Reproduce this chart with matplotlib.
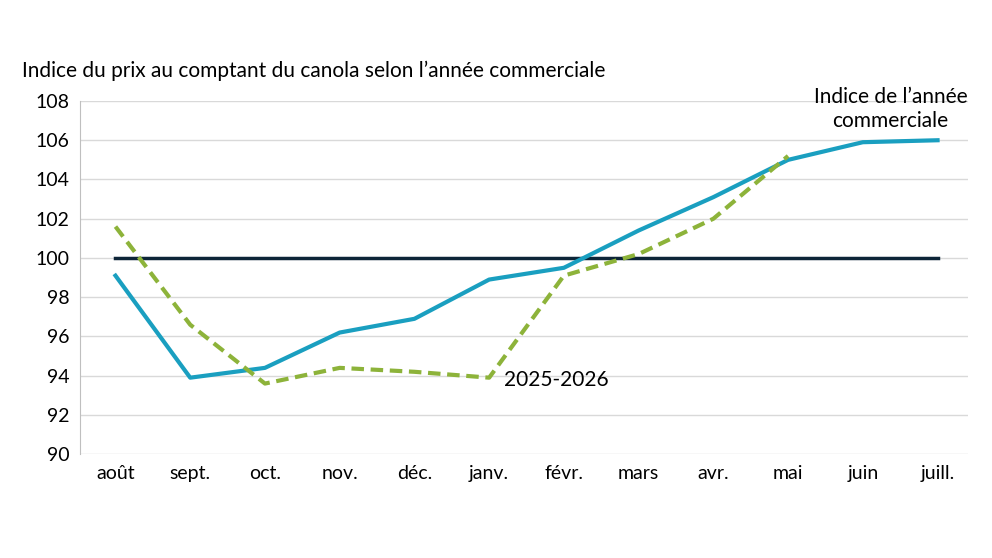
import matplotlib.pyplot as plt

months = ["août", "sept.", "oct.", "nov.", "déc.", "janv.", "févr.", "mars", "avr.", "mai", "juin", "juill."]
index_year = [99.1, 93.9, 94.4, 96.2, 96.9, 98.9, 99.5, 101.4, 103.1, 105.0, 105.9, 106.0]
season_2025 = [101.6, 96.6, 93.6, 94.4, 94.2, 93.9, 99.1, 100.2, 102.0, 105.2]
baseline = [100] * len(months)

plt.rcParams["font.family"] = ["Lato", "DejaVu Sans"]
fig = plt.figure(figsize=(9.92, 5.58), dpi=100)
ax = fig.add_axes([0.081, 0.186, 0.895, 0.633])

x = list(range(len(months)))
ax.plot(x, baseline, color="#0d2538", lw=2.5)
ax.plot(x, index_year, color="#1a9fc0", lw=3)
ax.plot(x[:len(season_2025)], season_2025, color="#8db33a", lw=3, ls=(0, (3, 1.6)))

ax.set_ylim(90, 108)
ax.set_yticks(range(90, 109, 2))
ax.set_xlim(-0.47, 11.41)
ax.set_xticks(x)
ax.set_xticklabels(months)
ax.grid(axis="y", color="#d9d9d9", lw=1)
ax.set_axisbelow(True)
for s in ["top", "right", "bottom"]:
    ax.spines[s].set_visible(False)
ax.spines["left"].set_color("#bfbfbf")
ax.tick_params(length=0, labelsize=14, pad=8)

fig.text(0.022, 0.862, "Indice du prix au comptant du canola selon l’année commerciale", fontsize=15)
ax.text(10.37, 107.6, "Indice de l’année\ncommerciale", fontsize=15, ha="center", va="center",
        linespacing=1.25)
ax.text(5.2, 93.8, "2025-2026", fontsize=15, ha="left", va="center")

fig.savefig("out.png", dpi=100)
